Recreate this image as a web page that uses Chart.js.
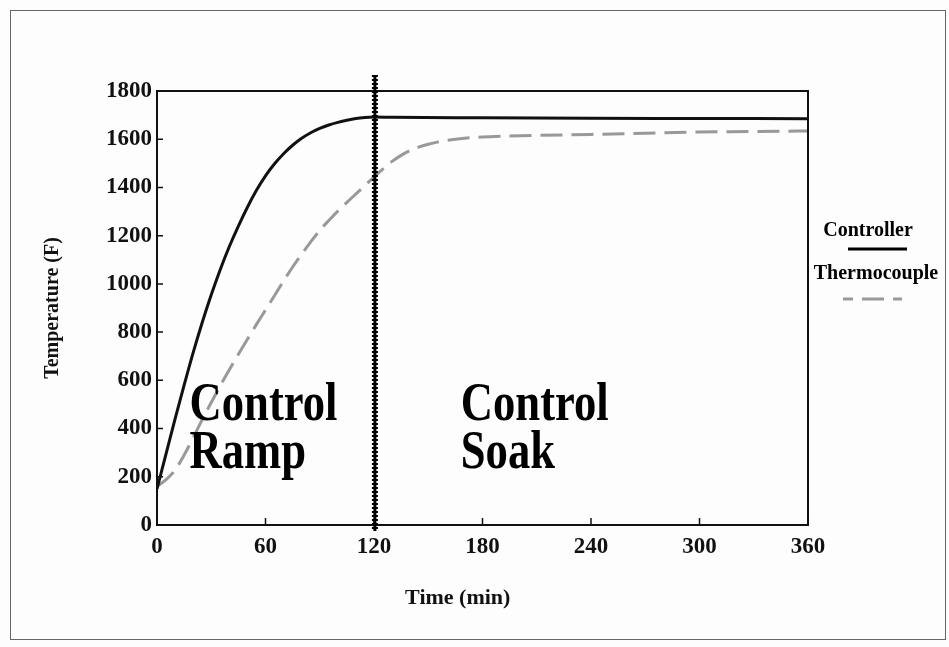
<!DOCTYPE html>
<html>
<head>
<meta charset="utf-8">
<script src="https://cdn.jsdelivr.net/npm/chart.js@4.4.1/dist/chart.umd.min.js"></script>
<style>
    html, body { margin: 0; padding: 0; background: #fdfdfd; }
    #wrap { position: relative; width: 949px; height: 647px; }
    #frame { position: absolute; left: 10px; top: 10px; width: 936px; height: 630px; border: 1px solid #666; box-sizing: border-box; }
    canvas { position: absolute; left: 0; top: 0; }
</style>
</head>
<body>
<div id="wrap">
    <div id="frame"></div>
    <canvas id="rampChart" width="949" height="647"></canvas>
</div>
<script>
// Furnace ramp / soak data
const controllerTime = [0, 5, 10, 15, 20, 25, 30, 35, 40, 45, 50, 55, 60, 65, 70, 75, 80, 85, 90, 95, 100, 105, 110, 115, 120, 130, 180, 240, 300, 360];
const controllerTemp = [150, 295, 440, 580, 715, 840, 955, 1060, 1155, 1240, 1318, 1388, 1448, 1498, 1540, 1575, 1604, 1627, 1645, 1659, 1670, 1679, 1686, 1690, 1692, 1691, 1689, 1687, 1686, 1685];

const thermoTime = [0, 5, 10, 15, 20, 25, 30, 35, 40, 45, 50, 55, 60, 65, 70, 75, 80, 85, 90, 95, 100, 105, 110, 115, 120, 125, 130, 135, 140, 145, 150, 155, 160, 170, 180, 190, 210, 240, 270, 300, 330, 360];
const thermoTemp = [160, 188, 228, 290, 362, 437, 508, 578, 644, 708, 770, 832, 892, 952, 1012, 1070, 1123, 1174, 1222, 1263, 1302, 1338, 1373, 1408, 1443, 1477, 1508, 1533, 1553, 1568, 1579, 1588, 1595, 1604, 1609, 1612, 1616, 1620, 1625, 1630, 1632, 1634];

const xTickValues = [0, 60, 120, 180, 240, 300, 360];
const yTickValues = [0, 200, 400, 600, 800, 1000, 1200, 1400, 1600, 1800];

const rampEnd = 120.5;   // time where the dotted divider sits
const serif = "'Liberation Serif', 'Times New Roman', serif";

function toPoints(xs, ys) {
    return xs.map((v, i) => ({ x: v, y: ys[i] }));
}

// Frame, inward ticks, divider, region labels, legend and axis titles
const overlay = {
    id: 'overlay',
    afterDatasetsDraw(chart) {
        const { ctx, chartArea: a, scales: { x, y } } = chart;
        ctx.save();

        ctx.strokeStyle = '#111';
        ctx.lineWidth = 2;
        ctx.strokeRect(a.left, a.top, a.right - a.left, a.bottom - a.top);

        ctx.lineWidth = 1.5;
        ctx.beginPath();
        xTickValues.forEach(v => {
            const px = x.getPixelForValue(v);
            ctx.moveTo(px, a.bottom);
            ctx.lineTo(px, a.bottom - 7);
        });
        yTickValues.forEach(v => {
            const py = y.getPixelForValue(v);
            ctx.moveTo(a.left, py);
            ctx.lineTo(a.left + 6, py);
        });
        ctx.stroke();

        // dotted divider between ramp and soak
        const dx = x.getPixelForValue(rampEnd);
        ctx.strokeStyle = '#000';
        ctx.lineWidth = 3;
        ctx.beginPath();
        ctx.moveTo(dx, a.top - 16);
        ctx.lineTo(dx, a.bottom + 6);
        ctx.stroke();
        ctx.lineWidth = 6;
        ctx.setLineDash([2, 2]);
        ctx.stroke();
        ctx.setLineDash([]);

        // region labels
        ctx.fillStyle = '#000';
        ctx.font = 'bold 46px ' + serif;
        ctx.textAlign = 'left';
        ctx.textBaseline = 'alphabetic';
        const label = (text, t, temp) => {
            ctx.save();
            ctx.translate(x.getPixelForValue(t), y.getPixelForValue(temp));
            ctx.scale(0.97, 1.2);
            ctx.fillText(text, 0, 0);
            ctx.restore();
        };
        label('Control', 18, 435);
        label('Ramp', 18, 236);
        label('Control', 168, 435);
        label('Soak', 168, 236);

        // legend at the right
        ctx.font = 'bold 20px ' + serif;
        ctx.textAlign = 'center';
        ctx.textBaseline = 'middle';
        ctx.fillText('Controller', a.right + 60, 231);
        ctx.fillText('Thermocouple', a.right + 68, 274);
        ctx.lineWidth = 3;
        ctx.strokeStyle = '#000';
        ctx.beginPath();
        ctx.moveTo(a.right + 40, 249);
        ctx.lineTo(a.right + 99, 249);
        ctx.stroke();
        ctx.strokeStyle = '#999';
        ctx.setLineDash([22, 9]);
        ctx.lineDashOffset = 12;
        ctx.beginPath();
        ctx.moveTo(a.right + 35, 299);
        ctx.lineTo(a.right + 94, 299);
        ctx.stroke();
        ctx.setLineDash([]);

        // axis titles
        ctx.fillStyle = '#111';
        ctx.font = 'bold 22px ' + serif;
        ctx.fillText('Time (min)', a.left + (a.right - a.left) * 0.462, 598);
        ctx.save();
        ctx.translate(53, (a.top + a.bottom) / 2);
        ctx.rotate(-Math.PI / 2);
        ctx.font = 'bold 20px ' + serif;
        ctx.fillText('Temperature (F)', 0, 0);
        ctx.restore();

        ctx.restore();
    }
};

document.addEventListener('DOMContentLoaded', function() {
    const ctx = document.getElementById('rampChart');

    new Chart(ctx, {
        type: 'line',
        data: {
            datasets: [
                {
                    label: 'Controller',
                    data: toPoints(controllerTime, controllerTemp),
                    borderColor: '#111',
                    borderWidth: 3,
                    pointRadius: 0,
                    cubicInterpolationMode: 'monotone'
                },
                {
                    label: 'Thermocouple',
                    data: toPoints(thermoTime, thermoTemp),
                    borderColor: '#999',
                    borderWidth: 3,
                    borderDash: [22, 9],
                    pointRadius: 0,
                    cubicInterpolationMode: 'monotone'
                }
            ]
        },
        options: {
            responsive: false,
            animation: false,
            devicePixelRatio: 1,
            layout: {
                padding: { left: 0, top: 91, right: 141, bottom: 0 }
            },
            plugins: {
                legend: { display: false },
                tooltip: { enabled: false }
            },
            scales: {
                x: {
                    type: 'linear',
                    min: 0,
                    max: 360,
                    afterBuildTicks: s => { s.ticks = xTickValues.map(v => ({ value: v })); },
                    afterFit: s => { s.height = 122; },
                    grid: { display: false, drawTicks: false },
                    border: { display: true, color: '#111', width: 2 },
                    ticks: {
                        color: '#111',
                        padding: 8,
                        maxRotation: 0,
                        callback: v => String(v),
                        font: { family: serif, size: 23, weight: 'bold' }
                    }
                },
                y: {
                    type: 'linear',
                    min: 0,
                    max: 1800,
                    afterBuildTicks: s => { s.ticks = yTickValues.map(v => ({ value: v })); },
                    afterFit: s => { s.width = 157; },
                    grid: { display: false, drawTicks: false },
                    border: { display: true, color: '#111', width: 2 },
                    ticks: {
                        color: '#111',
                        padding: 5,
                        callback: v => String(v),
                        font: { family: serif, size: 23, weight: 'bold' }
                    }
                }
            }
        },
        plugins: [overlay]
    });
});
</script>
</body>
</html>
